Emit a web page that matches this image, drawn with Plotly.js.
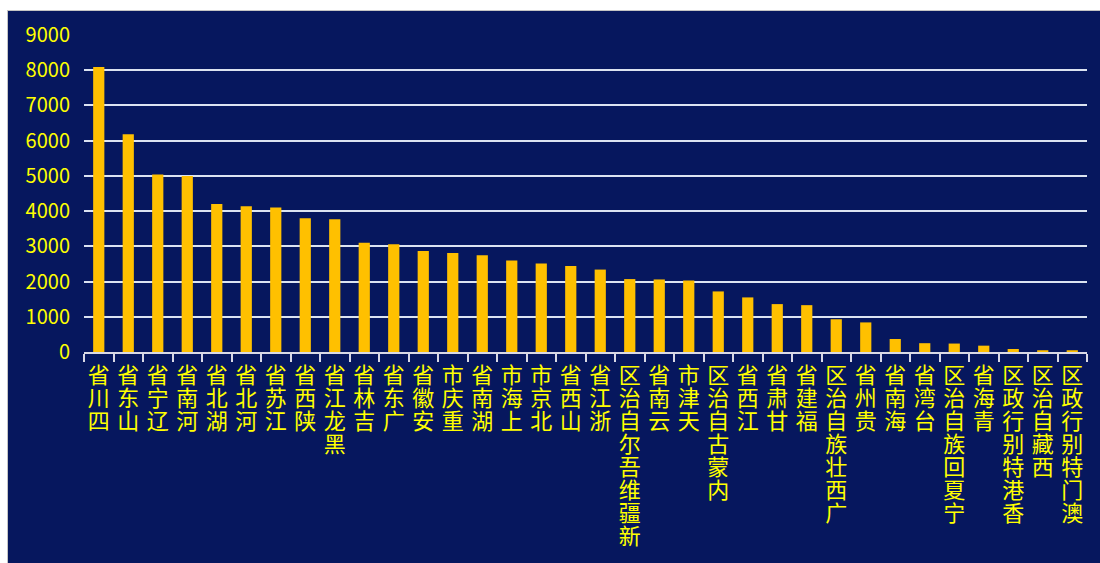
<!DOCTYPE html>
<html><head><meta charset="utf-8">
<script src="https://cdn.plot.ly/plotly-3.0.1.min.js"></script>
<style>
html,body{margin:0;padding:0;background:#ffffff;overflow:hidden;}
#chart{position:absolute;left:7px;top:10px;width:1093px;height:553px;border-top:1px solid #c4c4c4;border-left:1px solid #c4c4c4;}
</style></head><body><div id="chart"></div>
<script>
const categories = ["四川省","山东省","辽宁省","河南省","湖北省","河北省","江苏省","陕西省","黑龙江省","吉林省","广东省","安徽省","重庆市","湖南省","上海市","北京市","山西省","浙江省","新疆维吾尔自治区","云南省","天津市","内蒙古自治区","江西省","甘肃省","福建省","广西壮族自治区","贵州省","海南省","台湾省","宁夏回族自治区","青海省","香港特别行政区","西藏自治区","澳门特别行政区"];
const values = [8090,6180,5040,5000,4200,4140,4100,3800,3770,3100,3060,2870,2810,2750,2600,2510,2440,2340,2070,2060,2030,1720,1550,1360,1330,930,840,370,250,240,180,85,50,50];
const yTickVals = [0,1000,2000,3000,4000,5000,6000,7000,8000,9000];

const NAVY = '#06175e';
const GOLD = '#ffc000';
const YELLOW = '#ffff00';
const LINE_EM = 1.04;

const tickText = categories.map(c => Array.from(c).join('<br>'));

const trace = {
  type: 'bar',
  x: categories,
  y: values,
  marker: {color: GOLD, line: {width: 0}},
  hoverinfo: 'x+y'
};

const layout = {
  width: 1092, height: 552,
  margin: {l: 76, r: 13, t: 24, b: 211, pad: 0},
  paper_bgcolor: NAVY,
  plot_bgcolor: NAVY,
  showlegend: false,
  bargap: 0.62,
  font: {family: '"Noto Sans CJK SC", "Noto Sans", sans-serif', color: YELLOW},
  xaxis: {
    type: 'category',
    range: [-0.5, categories.length - 0.5],
    tickmode: 'array',
    tickvals: categories,
    ticktext: tickText,
    tickson: 'boundaries',
    ticks: 'outside', ticklen: 8, tickwidth: 2, tickcolor: '#d9d9e6',
    showline: true, linecolor: '#d9d9e6', linewidth: 2,
    showgrid: false, zeroline: false,
    tickangle: 0,
    ticklabelstandoff: 3,
    automargin: false,
    tickfont: {family: '"Noto Sans CJK SC", sans-serif', size: 22, color: YELLOW},
    fixedrange: true
  },
  yaxis: {
    range: [0, 9000],
    tickmode: 'array',
    tickvals: yTickVals,
    ticktext: yTickVals.map(String),
    showgrid: true, gridcolor: '#dbe3f1', gridwidth: 2,
    zeroline: false, showline: false,
    ticks: '',
    ticklabelstandoff: 13,
    automargin: false,
    tickfont: {family: '"Noto Sans CJK SC", sans-serif', size: 20, color: YELLOW},
    fixedrange: true
  }
};

function stackLabels() {
  document.querySelectorAll('#chart .xtick text').forEach(t => {
    const lines = t.querySelectorAll('tspan.line');
    const n = lines.length;
    lines.forEach((s, i) => s.setAttribute('dy', ((n - 1 - i) * LINE_EM) + 'em'));
  });
}

const gd = document.getElementById('chart');
Plotly.newPlot(gd, [trace], layout, {displayModeBar: false, staticPlot: true}).then(() => {
  stackLabels();
  gd.on('plotly_afterplot', stackLabels);
});
</script>
</body></html>
